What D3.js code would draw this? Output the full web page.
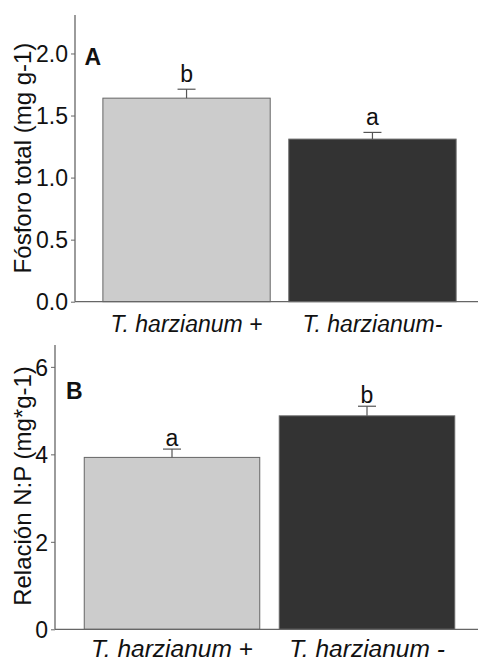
<!DOCTYPE html>
<html><head><meta charset="utf-8">
<script src="https://cdn.jsdelivr.net/npm/d3@7"></script>
<style>body{margin:0;background:#fff}svg{display:block;font-family:Arial,"Liberation Sans",sans-serif}</style>
</head><body><svg id="c" width="478" height="662"></svg>
<script>
const categoriesA = ["T. harzianum +", "T. harzianum-"];
const categoriesB = ["T. harzianum +", "T. harzianum -"];
const phosphorus = [1.64, 1.31];
const phosphorusErr = [0.072, 0.054];
const phosphorusLetters = ["b", "a"];
const ratioNP = [3.93, 4.88];
const ratioNPErr = [0.19, 0.22];
const ratioNPLetters = ["a", "b"];
const ticksA = [0, 0.5, 1.0, 1.5, 2.0];
const ticksB = [0, 2, 4, 6];
const fills = ["#cccccc", "#333333"];

const svg = d3.select("#c");

function panel(o) {
  const g = svg.append("g");
  const x = d3.scaleBand().domain(o.cats).range([o.left, 484]).paddingInner(0.1).paddingOuter(0.15);
  const y = d3.scaleLinear().domain([0, o.ymax]).range([o.bottom, o.top]);
  g.selectAll("rect.bar").data(o.vals).join("rect")
    .attr("x", (d, i) => x(o.cats[i])).attr("width", x.bandwidth())
    .attr("y", d => y(d)).attr("height", d => y(0) - y(d))
    .attr("fill", (d, i) => fills[i]).attr("stroke", "#666").attr("stroke-width", 1);
  o.vals.forEach((v, i) => {
    const cx = x(o.cats[i]) + x.bandwidth() / 2;
    g.append("line").attr("x1", cx).attr("x2", cx).attr("y1", y(v)).attr("y2", y(v + o.errs[i]))
      .attr("stroke", "#555").attr("stroke-width", 1.2);
    g.append("line").attr("x1", cx - 9).attr("x2", cx + 9).attr("y1", y(v + o.errs[i])).attr("y2", y(v + o.errs[i]))
      .attr("stroke", "#555").attr("stroke-width", 1.2);
    g.append("text").attr("x", cx).attr("y", y(v + o.errs[i]) - o.letterOff)
      .attr("text-anchor", "middle").attr("font-size", 23).attr("fill", "#111").text(o.letters[i]);
  });
  const ya = g.append("g").attr("transform", `translate(${o.left},0)`)
    .call(d3.axisLeft(y).tickValues(o.ticks).tickFormat(o.fmt).tickSize(4).tickSizeOuter(0));
  ya.select(".domain").remove();
  ya.selectAll(".tick line").attr("stroke", "#666");
  ya.selectAll(".tick text").attr("font-size", 23).attr("fill", "#111").attr("x", -7).attr("dy", "0.36em")
    .attr("font-family", "Arial, 'Liberation Sans', sans-serif");
  g.append("line").attr("x1", o.left).attr("x2", o.left).attr("y1", o.top).attr("y2", o.bottom)
    .attr("stroke", "#666").attr("stroke-width", 1.3);
  g.append("line").attr("x1", o.left).attr("x2", 478).attr("y1", o.bottom).attr("y2", o.bottom)
    .attr("stroke", "#666").attr("stroke-width", 1.3);
  const xa = g.append("g").attr("transform", `translate(0,${o.bottom})`)
    .call(d3.axisBottom(x).tickSize(0).tickPadding(0));
  xa.select(".domain").remove();
  xa.selectAll(".tick text").attr("font-size", o.xfs).attr("font-style", "italic").attr("fill", "#111")
    .attr("dy", 0).attr("y", o.xlabY)
    .attr("font-family", "Arial, 'Liberation Sans', sans-serif");
  g.append("text").attr("transform", `translate(31,${o.titleY}) rotate(-90)`)
    .attr("text-anchor", "middle").attr("font-size", 24).attr("fill", "#111").text(o.title);
  g.append("text").attr("x", o.tagX).attr("y", o.tagY).attr("font-size", 23).attr("font-weight", "bold")
    .attr("fill", "#111").text(o.tag);
}

panel({cats: categoriesA, vals: phosphorus, errs: phosphorusErr, letters: phosphorusLetters,
  ymax: 2.31, top: 15, bottom: 301.7, left: 75, ticks: ticksA, fmt: d3.format(".1f"),
  title: "Fósforo total (mg g-1)", titleY: 158, tag: "A", tagX: 84.5, tagY: 64.5,
  letterOff: 7, xfs: 23, xlabY: 30});
panel({cats: categoriesB, vals: ratioNP, errs: ratioNPErr, letters: ratioNPLetters,
  ymax: 6.5, top: 345, bottom: 629.3, left: 55, ticks: ticksB, fmt: d3.format("d"),
  title: "Relación N:P (mg*g-1)", titleY: 486, tag: "B", tagX: 66, tagY: 398.5,
  letterOff: 3, xfs: 24.5, xlabY: 27.5});
</script></body></html>
